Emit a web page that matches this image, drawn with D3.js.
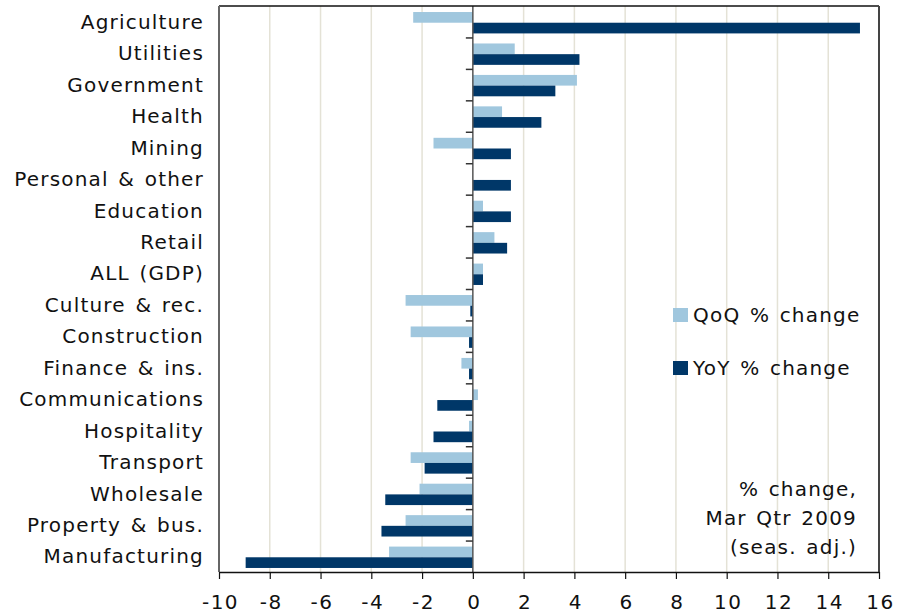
<!DOCTYPE html>
<html>
<head>
<meta charset="utf-8">
<script src="https://cdn.jsdelivr.net/npm/d3@7"></script>
<style>
  body { margin: 0; background: #fff; }
  svg { display: block; }
  text { font-family: "DejaVu Sans", Verdana, sans-serif; }
</style>
</head>
<body>
<div id="chart"></div>
<script>
const categories = ["Agriculture","Utilities","Government","Health","Mining","Personal & other","Education","Retail","ALL (GDP)","Culture & rec.","Construction","Finance & ins.","Communications","Hospitality","Transport","Wholesale","Property & bus.","Manufacturing"];
const qoq = [-2.35, 1.65, 4.1, 1.15, -1.55, 0.0, 0.4, 0.85, 0.4, -2.65, -2.45, -0.45, 0.2, -0.15, -2.45, -2.1, -2.65, -3.3];
const yoy = [15.25, 4.2, 3.25, 2.7, 1.5, 1.5, 1.5, 1.35, 0.4, -0.1, -0.15, -0.15, -1.4, -1.55, -1.9, -3.45, -3.6, -8.95];
const seriesNames = ["QoQ % change", "YoY % change"];
const seriesColors = ["#A0C7DE", "#003768"];
const xTicks = [-10, -8, -6, -4, -2, 0, 2, 4, 6, 8, 10, 12, 14, 16];
const noteLines = ["% change,", "Mar Qtr 2009", "(seas. adj.)"];

const W = 903, H = 616;
const L = 219, R = 879, T = 6, B = 572;
const FS = 20, LS = 1.2, WS = 2;

const svg = d3.select("#chart").append("svg").attr("width", W).attr("height", H);

const x = d3.scaleLinear().domain([-10, 16]).range([L, R]);
const y0 = d3.scaleBand().domain(categories).range([T, B]).paddingInner(0.32).paddingOuter(0.16);
const y1 = d3.scaleBand().domain(seriesNames).range([0, y0.bandwidth()]);

const rows = categories.map((c, i) => ({ cat: c, vals: [qoq[i], yoy[i]] }));

// gridlines
svg.append("g").selectAll("line")
  .data(xTicks.filter(t => t !== -10 && t !== 0 && t !== 16))
  .join("line")
  .attr("x1", d => x(d)).attr("x2", d => x(d))
  .attr("y1", T).attr("y2", B)
  .attr("stroke", "#E4E2D6").attr("stroke-width", 1.5);

// bars
const g = svg.append("g").selectAll("g").data(rows).join("g")
  .attr("transform", d => `translate(0,${y0(d.cat) + 1})`);
g.selectAll("rect")
  .data(d => d.vals.map((v, j) => ({ v, s: seriesNames[j], j })))
  .join("rect")
  .attr("x", d => x(Math.min(0, d.v)))
  .attr("width", d => Math.abs(x(d.v) - x(0)))
  .attr("y", d => y1(d.s))
  .attr("height", y1.bandwidth())
  .attr("fill", d => seriesColors[d.j]);

// zero axis line with category ticks
svg.append("line").attr("x1", x(0)).attr("x2", x(0)).attr("y1", T).attr("y2", B)
  .attr("stroke", "#555").attr("stroke-width", 1.5);
const step = y0.step();
svg.append("g").selectAll("line")
  .data(d3.range(1, categories.length))
  .join("line")
  .attr("x1", x(0) - 7).attr("x2", x(0))
  .attr("y1", d => y0(categories[d]) - step * 0.16 + 0.5)
  .attr("y2", d => y0(categories[d]) - step * 0.16 + 0.5)
  .attr("stroke", "#333").attr("stroke-width", 1.5);

// frame
svg.append("line").attr("x1", L).attr("x2", R).attr("y1", T).attr("y2", T).attr("stroke", "#111").attr("stroke-width", 1.5);
svg.append("line").attr("x1", L).attr("x2", L).attr("y1", T).attr("y2", B).attr("stroke", "#666").attr("stroke-width", 2);
svg.append("line").attr("x1", R).attr("x2", R).attr("y1", T).attr("y2", B).attr("stroke", "#444").attr("stroke-width", 2);

// x axis
const xAxis = svg.append("g").attr("transform", `translate(0,${B})`)
  .call(d3.axisBottom(x).tickValues(xTicks).tickFormat(d => String(d)).tickSize(7).tickPadding(16).tickSizeOuter(0));
xAxis.select(".domain").attr("stroke", "#111").attr("stroke-width", 1.5);
xAxis.selectAll(".tick line").attr("stroke", "#111").attr("stroke-width", 1.2);
xAxis.selectAll(".tick text")
  .attr("font-size", FS).attr("fill", "#111")
  .attr("font-family", "DejaVu Sans, Verdana, sans-serif")
  .attr("letter-spacing", 1.5).attr("dx", 1);

// y axis labels
const yAxis = svg.append("g").attr("transform", `translate(${L},0)`)
  .call(d3.axisLeft(y0).tickSize(0).tickPadding(15));
yAxis.select(".domain").remove();
yAxis.selectAll(".tick text")
  .attr("font-size", FS).attr("fill", "#111")
  .attr("font-family", "DejaVu Sans, Verdana, sans-serif")
  .attr("letter-spacing", LS).attr("word-spacing", WS)
  .attr("dy", "0.36em");

// legend
const legY = [308, 361];
seriesNames.forEach((s, j) => {
  svg.append("rect").attr("x", 673).attr("y", legY[j]).attr("width", 15).attr("height", 14).attr("fill", seriesColors[j]);
  svg.append("text").attr("x", 693).attr("y", legY[j] + 14).text(s)
    .attr("font-size", FS).attr("fill", "#111").attr("letter-spacing", LS).attr("word-spacing", WS);
});

// note
const noteY = [496, 525, 554];
noteLines.forEach((t, i) => {
  svg.append("text").attr("x", 857).attr("y", noteY[i]).attr("text-anchor", "end").text(t)
    .attr("font-size", FS).attr("fill", "#111").attr("letter-spacing", LS).attr("word-spacing", WS);
});
</script>
</body>
</html>
